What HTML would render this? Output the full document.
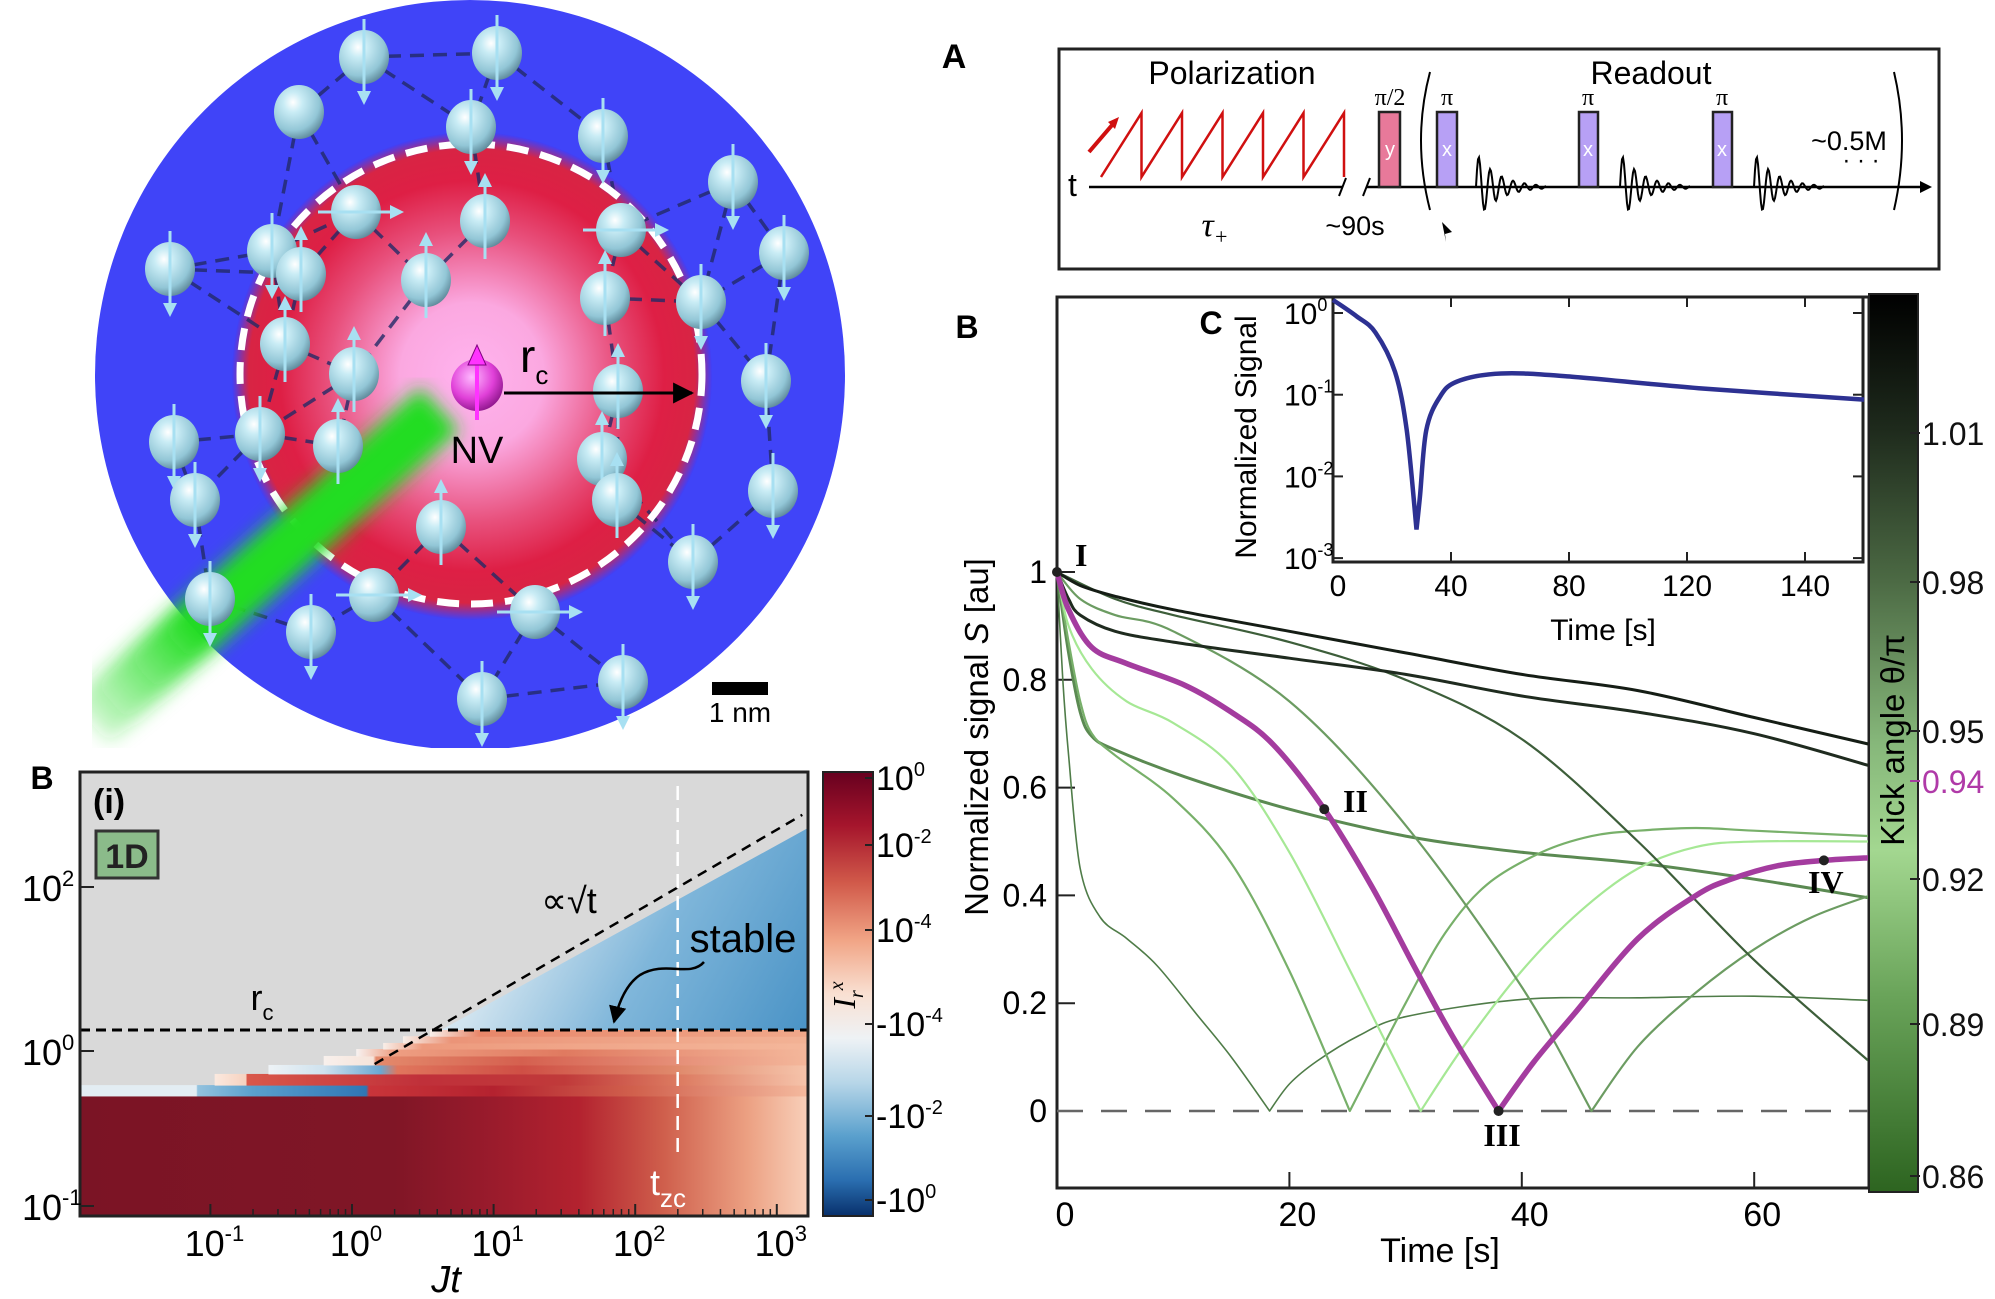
<!DOCTYPE html>
<html><head><meta charset="utf-8"><title>NV spin figure</title>
<style>
html,body{margin:0;padding:0;background:#fff;}
svg{display:block;font-family:"Liberation Sans Narrow","Liberation Sans",sans-serif;}
.serif{font-family:"Liberation Serif",serif;}
</style></head>
<body>
<svg id="fig" width="1995" height="1299" viewBox="0 0 1995 1299" xmlns="http://www.w3.org/2000/svg">
<defs>
  <radialGradient id="sphereG" cx="0.38" cy="0.32" r="0.75">
    <stop offset="0" stop-color="#ffffff"/><stop offset="0.25" stop-color="#c9ecf5"/>
    <stop offset="0.7" stop-color="#92c6d6"/><stop offset="1" stop-color="#557f90"/>
  </radialGradient>
  <radialGradient id="nvG" cx="0.4" cy="0.35" r="0.7">
    <stop offset="0" stop-color="#ffb8ff"/><stop offset="0.6" stop-color="#e040d8"/><stop offset="1" stop-color="#8a1488"/>
  </radialGradient>
  <radialGradient id="redG" cx="0.5" cy="0.5" r="0.5">
    <stop offset="0" stop-color="#ffb3ef"/><stop offset="0.3" stop-color="#fba8e0"/>
    <stop offset="0.6" stop-color="#e8507c"/><stop offset="0.8" stop-color="#de1f45"/>
    <stop offset="0.93" stop-color="#d82444"/><stop offset="1" stop-color="#4040f8"/>
  </radialGradient>
  <filter id="blur"><feGaussianBlur stdDeviation="9"/></filter>
  <linearGradient id="beamG" x1="90" y1="722" x2="440" y2="409" gradientUnits="userSpaceOnUse">
    <stop offset="0" stop-color="#22dd22" stop-opacity="0.2"/><stop offset="0.3" stop-color="#22dd22"/><stop offset="1" stop-color="#22dd22"/>
  </linearGradient>
  <clipPath id="imgClip"><rect x="92" y="0" width="776" height="748"/></clipPath>
  <linearGradient id="cbHeat" x1="0" y1="0" x2="0" y2="1">
    <stop offset="0" stop-color="#67001f"/><stop offset="0.12" stop-color="#a5152c"/>
    <stop offset="0.25" stop-color="#d15a4a"/><stop offset="0.38" stop-color="#f1a586"/>
    <stop offset="0.5" stop-color="#f9e0d2"/><stop offset="0.6" stop-color="#eef2f5"/>
    <stop offset="0.7" stop-color="#b7d6e8"/><stop offset="0.82" stop-color="#5aa0cd"/>
    <stop offset="0.92" stop-color="#2a6eb0"/><stop offset="1" stop-color="#08306b"/>
  </linearGradient>
  <linearGradient id="cbKick" x1="0" y1="0" x2="0" y2="1">
    <stop offset="0" stop-color="#000000"/><stop offset="0.15" stop-color="#1e2a1c"/>
    <stop offset="0.32" stop-color="#4c6a44"/><stop offset="0.5" stop-color="#86b77a"/>
    <stop offset="0.62" stop-color="#a3d790"/><stop offset="0.78" stop-color="#6aa45a"/>
    <stop offset="1" stop-color="#2d6420"/>
  </linearGradient>
  <linearGradient id="stableG" x1="430" y1="820" x2="808" y2="1030" gradientUnits="userSpaceOnUse">
    <stop offset="0" stop-color="#ffffff"/><stop offset="0.3" stop-color="#cfe3ef"/>
    <stop offset="0.6" stop-color="#7fb6da"/><stop offset="1" stop-color="#4a93c6"/>
  </linearGradient>
  <marker id="arrBlack" viewBox="0 0 10 10" refX="9" refY="5" markerWidth="7" markerHeight="7" orient="auto"><path d="M0,0 L10,5 L0,10 z" fill="#000"/></marker>
</defs>

<g id="illus" clip-path="url(#imgClip)">
  <circle cx="470" cy="375" r="375" fill="#4044f8"/>
  <ellipse cx="472" cy="376" rx="240" ry="244" fill="url(#redG)"/>
  <g id="net"></g>
  <ellipse cx="471" cy="374" rx="231" ry="230" fill="none" stroke="#fff" stroke-width="7" stroke-dasharray="22 12"/>
  <line x1="90" y1="722" x2="440" y2="409" stroke="url(#beamG)" stroke-width="58" filter="url(#blur)"/>
  <g id="spheres"></g>
  <circle cx="477" cy="385" r="26" fill="url(#nvG)"/>
  <line x1="477" y1="420" x2="477" y2="360" stroke="#ff33ff" stroke-width="4"/>
  <path d="M468,365 L477,345 L486,365 z" fill="#ff33ff" stroke="#800080" stroke-width="1"/>
  <line x1="504" y1="393" x2="692" y2="393" stroke="#000" stroke-width="3" marker-end="url(#arrBlack)"/>
  <text x="520" y="372" font-size="46">r<tspan font-size="26" dy="12">c</tspan></text>
  <text x="477" y="463" font-size="38" text-anchor="middle">NV</text>
  <rect x="712" y="682" width="56" height="13" fill="#000"/>
  <text x="740" y="722" font-size="28" text-anchor="middle">1 nm</text>
</g>

<g id="panelA">
  <text x="954" y="68" font-size="34" font-weight="bold" text-anchor="middle">A</text>
  <rect x="1059" y="49" width="880" height="220" fill="none" stroke="#222" stroke-width="3"/>
  <text x="1232" y="84" font-size="32" text-anchor="middle">Polarization</text>
  <text x="1651" y="84" font-size="32" text-anchor="middle">Readout</text>
  <text x="1068" y="196" font-size="32">t</text>
  <line x1="1089" y1="187" x2="1343" y2="187" stroke="#000" stroke-width="2.5"/>
  <line x1="1367" y1="187" x2="1922" y2="187" stroke="#000" stroke-width="2.5"/>
  <path d="M1920,181 L1932,187 L1920,193 z" fill="#000"/>
  <line x1="1339" y1="196" x2="1346" y2="178" stroke="#000" stroke-width="2"/>
  <line x1="1363" y1="196" x2="1370" y2="178" stroke="#000" stroke-width="2"/>
  <path id="saw" fill="none" stroke="#d01010" stroke-width="2.5"/>
  <line x1="1089" y1="152" x2="1113" y2="124" stroke="#d01010" stroke-width="4"/>
  <path d="M1108,122 L1119,117 L1115,129 z" fill="#d01010"/>
  <rect x="1379" y="112" width="21" height="75" fill="#e8799a" stroke="#222" stroke-width="2.5"/>
  <text x="1390" y="156" font-size="20" fill="#fff" text-anchor="middle">y</text>
  <rect x="1437" y="112" width="20" height="75" fill="#b7a0f5" stroke="#222" stroke-width="2.5"/>
  <rect x="1579" y="112" width="19" height="75" fill="#b7a0f5" stroke="#222" stroke-width="2.5"/>
  <rect x="1713" y="112" width="19" height="75" fill="#b7a0f5" stroke="#222" stroke-width="2.5"/>
  <text x="1447" y="156" font-size="20" fill="#fff" text-anchor="middle">x</text>
  <text x="1588" y="156" font-size="20" fill="#fff" text-anchor="middle">x</text>
  <text x="1722" y="156" font-size="20" fill="#fff" text-anchor="middle">x</text>
  <text x="1390" y="105" font-size="24" class="serif" text-anchor="middle">π/2</text>
  <text x="1447" y="105" font-size="24" class="serif" text-anchor="middle">π</text>
  <text x="1588" y="105" font-size="24" class="serif" text-anchor="middle">π</text>
  <text x="1722" y="105" font-size="24" class="serif" text-anchor="middle">π</text>
  <g id="fids"></g>
  <path d="M1430,72 Q1412,140 1430,210" fill="none" stroke="#000" stroke-width="2"/>
  <path d="M1894,72 Q1910,140 1894,210" fill="none" stroke="#000" stroke-width="2"/>
  <text x="1849" y="150" font-size="27" text-anchor="middle">~0.5M</text>
  <text x="1861" y="168" font-size="24" text-anchor="middle">· · ·</text>
  <text x="1215" y="236" font-size="34" font-style="italic" class="serif" text-anchor="middle">τ<tspan font-size="22" dy="8">+</tspan></text>
  <text x="1355" y="235" font-size="27" text-anchor="middle">~90s</text>
  <path d="M1442,222 L1452,232 L1445,234 L1446,242 z" fill="#000"/>
</g>

<g id="heat">
  <text x="42" y="789" font-size="32" font-weight="bold" text-anchor="middle">B</text>
  <rect x="80" y="772" width="728" height="444" fill="#d9d9d9"/>
  <g id="hmCells"></g>
  <g id="hmOver"></g>
  <rect x="80" y="772" width="728" height="444" fill="none" stroke="#222" stroke-width="3"/>
  <text x="93" y="813" font-size="34" font-weight="bold">(i)</text>
  <rect x="96" y="831" width="62" height="47" fill="#8bbb8a" stroke="#333" stroke-width="3"/>
  <text x="127" y="868" font-size="34" font-weight="bold" text-anchor="middle" fill="#222">1D</text>
  <text x="569" y="913" font-size="36" text-anchor="middle">∝√t</text>
  <text x="743" y="952" font-size="40" text-anchor="middle">stable</text>
  <path d="M704,962 C690,978 665,960 640,975 C625,985 618,1005 614,1022" fill="none" stroke="#000" stroke-width="2.5" marker-end="url(#arrBlack)"/>
  <text x="262" y="1010" font-size="36" text-anchor="middle">r<tspan font-size="22" dy="10">c</tspan></text>
  <text x="668" y="1195" font-size="36" fill="#fff" text-anchor="middle">t<tspan font-size="26" dy="12">zc</tspan></text>
  <g id="hmAxes"></g>
  <text x="446" y="1292" font-size="38" font-style="italic" text-anchor="middle">Jt</text>
  <rect x="823" y="772" width="50" height="444" fill="url(#cbHeat)" stroke="#222" stroke-width="2"/>
  <text transform="translate(855,995) rotate(-90)" font-size="32" font-style="italic" class="serif" text-anchor="middle">I<tspan font-size="20" dy="8">r</tspan><tspan font-size="20" dy="-20">x</tspan></text>
  <g id="cbHeatTicks"></g>
</g>

<g id="main">
  <text x="967" y="338" font-size="32" font-weight="bold" text-anchor="middle">B</text>
  <rect x="1057" y="297" width="812" height="891" fill="#fff" stroke="#222" stroke-width="3"/>
  <g id="mainAxes"></g>
  <g id="mainSeries"></g>
  <g id="markers"></g>
  <text transform="translate(988,737) rotate(-90)" font-size="33" text-anchor="middle">Normalized signal <tspan font-style="italic">S</tspan> [au]</text>
  <text x="1440" y="1262" font-size="34" text-anchor="middle">Time [s]</text>
  <text x="1075" y="566" font-size="32" font-weight="bold" class="serif">I</text>
  <text x="1343" y="812" font-size="32" font-weight="bold" class="serif">II</text>
  <text x="1502" y="1146" font-size="32" font-weight="bold" class="serif" text-anchor="middle">III</text>
  <text x="1808" y="893" font-size="32" font-weight="bold" class="serif">IV</text>
  <rect x="1333" y="297" width="530" height="265" fill="#fff" stroke="#222" stroke-width="3"/>
  <g id="insetAxes"></g>
  <path id="insetLine" fill="none" stroke="#2d3192" stroke-width="4.5"/>
  <text x="1211" y="334" font-size="32" font-weight="bold" text-anchor="middle">C</text>
  <text transform="translate(1256,437) rotate(-90)" font-size="30" text-anchor="middle">Normalized Signal</text>
  <text x="1603" y="640" font-size="30" text-anchor="middle">Time [s]</text>
  <rect x="1869" y="294" width="49" height="898" fill="url(#cbKick)" stroke="#222" stroke-width="2"/>
  <text transform="translate(1904,740) rotate(-90)" font-size="33" text-anchor="middle">Kick angle θ/π</text>
  <g id="kickTicks"></g>
</g>
</svg>

<script>
// ================= MAIN CHART DATA =================
const s1T = [0,2,5,10,20,30,40,50,60,70];
const s1V = [1,0.975,0.955,0.93,0.89,0.85,0.81,0.78,0.73,0.68];
const s2T = [0,1,2,5,10,20,30,40,50,60,70];
const s2V = [1,0.95,0.92,0.89,0.87,0.84,0.81,0.77,0.74,0.70,0.64];
const s3T = [0,5,10,20,30,40,50,60,70];
const s3V = [1,0.95,0.92,0.87,0.80,0.69,0.50,0.28,0.09];
const s4T = [0,2,5,10,20,30,40,46,50,55,60,65,70];
const s4V = [1,0.95,0.92,0.89,0.76,0.53,0.23,0.0,0.12,0.22,0.30,0.36,0.40];
const s5T = [0,1,3,6,10,15,20,25,28,31.3,35,40,45,50,55,60,70];
const s5V = [1,0.9,0.82,0.76,0.72,0.64,0.48,0.27,0.14,0,0.12,0.26,0.37,0.45,0.49,0.50,0.50];
const s6T = [0,1,3,6,11,15,18.6,23,27,30.7,34,38,41,44.5,50,55,58,62,66,70];
const s6V = [1,0.93,0.86,0.83,0.79,0.74,0.68,0.56,0.42,0.27,0.14,0,0.09,0.18,0.32,0.40,0.43,0.455,0.465,0.47];
const s7T = [0,1,2,3,5,10,15,20,25.2,30,33.4,37,41.7,46,50,55,60,70];
const s7V = [1,0.87,0.76,0.70,0.66,0.58,0.46,0.26,0,0.2,0.33,0.42,0.48,0.51,0.52,0.525,0.52,0.51];
const s8T = [0,1,2,3,5,11,20,30,40,50,60,70];
const s8V = [1,0.85,0.74,0.695,0.67,0.62,0.56,0.51,0.48,0.46,0.43,0.395];
const s9T = [0,0.5,1,2,3.7,6,8.6,12,15,18.3,20,22.4,26,30,40,50,60,70];
const s9V = [1,0.8,0.66,0.45,0.36,0.32,0.27,0.18,0.1,0,0.05,0.093,0.14,0.175,0.207,0.21,0.213,0.205];
const markerT = [0,23,38,66];
const markerV = [1,0.56,0,0.465];
const yTicks = [0,0.2,0.4,0.6,0.8,1];
const yTickLabels = ["0","0.2","0.4","0.6","0.8","1"];
const xTicks = [0,20,40,60];
const xTickLabels = ["0","20","40","60"];
const inT = [0,8,14.4,21,25,28.3,29.5,31.6,36,42,57,81,124,180];
const inLogV = [0.16,-0.04,-0.24,-0.72,-1.44,-2.65,-2.24,-1.44,-1.04,-0.84,-0.74,-0.78,-0.92,-1.06];
const inXTicks = [0,40,80,120,160];
const inXTickLabels = ["0","40","80","120","140"];
const inYTicks = [0,-1,-2,-3];
const kickTicks = [1.01,0.98,0.95,0.94,0.92,0.89,0.86];
const kickTickY = [433,582,731,781,879,1024,1176];
// ================= HEATMAP DATA =================
const hmXTicks = [-1,0,1,2,3];
const hmYTicks = [2,0,-1];
const hmRowLo = [-1.07,-0.29,-0.22,-0.148,-0.09,-0.032,0.024,0.098,0.18];
const hmRowHi = [-0.29,-0.22,-0.148,-0.09,-0.032,0.024,0.098,0.18,0.256];
const hmRowStart = [-1.92,-1.92,-0.97,-0.59,-0.2,0.03,0.22,0.36,0.55];
const hmRowStops = [
 [[-1.92,'#7b1425'],[0.3,'#801626'],[1.0,'#9a1b2c'],[1.6,'#b3222f'],[2.2,'#cf5f4c'],[2.8,'#eca183'],[3.22,'#f8d0ba']],
 [[-1.92,'#e3edf3'],[-1.1,'#e3edf3'],[-1.09,'#93c2de'],[-0.7,'#5aa0cd'],[0.1,'#2f76b5'],[0.12,'#c9353a'],[1.0,'#b4222f'],[2,'#d1614d'],[3.22,'#f4b99e']],
 [[-0.97,'#fbe9df'],[-0.75,'#f6d2c0'],[-0.74,'#d9584a'],[0.5,'#c0303a'],[1.5,'#c03a3a'],[2.3,'#dc7a60'],[3.22,'#f6c4ab']],
 [[-0.59,'#eef3f6'],[-0.2,'#cfe2ee'],[0.2,'#6aa8d2'],[0.32,'#e0765d'],[1.2,'#cf4f45'],[2.3,'#e08a6c'],[3.22,'#f6c4ab']],
 [[-0.2,'#f8f0ec'],[0.15,'#f6e4da'],[0.17,'#e48a6c'],[1.2,'#d5604f'],[3.22,'#f4b79b']],
 [[0.03,'#f7f2f0'],[0.3,'#ee9e82'],[1.5,'#e07a60'],[3.22,'#f4b79b']],
 [[0.22,'#f8eee8'],[0.5,'#ed9a7d'],[3.22,'#f4b79b']],
 [[0.36,'#f7efe9'],[0.7,'#eb9478'],[3.22,'#f2b295']],
 [[0.55,'#f8efea'],[0.9,'#e8876a'],[3.22,'#f0a88a']]
];
const rcLogR = 0.256;
const sqrtLineJ = [0.16,3.18];
const sqrtLineR = [-0.084,2.88];
const tzcLogJ = 2.3;
const cbHeatLabels = ["10","10","10","-10","-10","-10"];
const cbHeatExps = ["0","-2","-4","-4","-2","0"];
const cbHeatY = [790,857,942,1036,1128,1212];

const NS = "http://www.w3.org/2000/svg";
function mk(tag, attrs, parent){ const e=document.createElementNS(NS,tag); for(const k in attrs) e.setAttribute(k,attrs[k]); if(parent) parent.appendChild(e); return e; }
const $ = id => document.getElementById(id);
function supText(parent, x, y, size, base, exp, anchor){
  const t = mk('text',{x:x,y:y,'font-size':size,'text-anchor':anchor||'start'},parent);
  t.appendChild(document.createTextNode(base));
  const s = mk('tspan',{'font-size':Math.round(size*0.6),dy:-Math.round(size*0.42)},t);
  s.textContent = exp;
  return t;
}

const xM = t => 1057 + t*11.62;
const yM = v => 1111 - v*539;
function smoothPath(ts, vs, fx, fy){
  const P = ts.map((t,i)=>[fx(t),fy(vs[i])]);
  const n = P.length;
  // cusp = local minimum in value (local max in pixel y)
  const cusp = vs.map((v,i)=> i>0 && i<n-1 && v < vs[i-1] && v < vs[i+1]);
  let d = 'M'+P[0][0].toFixed(1)+','+P[0][1].toFixed(1);
  for(let i=0;i < n-1;i++){
    const p1=P[i], p2=P[i+1];
    let p0 = cusp[i] ? p1 : P[Math.max(0,i-1)];
    let p3 = cusp[i+1] ? p2 : P[Math.min(n-1,i+2)];
    const c1=[p1[0]+(p2[0]-p0[0])/6, p1[1]+(p2[1]-p0[1])/6];
    const c2=[p2[0]-(p3[0]-p1[0])/6, p2[1]-(p3[1]-p1[1])/6];
    d += ` C${c1[0].toFixed(1)},${c1[1].toFixed(1)} ${c2[0].toFixed(1)},${c2[1].toFixed(1)} ${p2[0].toFixed(1)},${p2[1].toFixed(1)}`;
  }
  return d;
}

const mainAx = $('mainAxes');
yTicks.forEach((v,i)=>{
  let tk = mk('line',{x1:1057,y1:yM(v),x2:1075,y2:yM(v),stroke:'#222','stroke-width':2},mainAx);
  
  
  let lb = mk('text',{x:1047,y:yM(v)+11,'font-size':32,'text-anchor':'end'},mainAx);
  lb.textContent = yTickLabels[i];
  
  
});
xTicks.forEach((t,i)=>{
  let tk = mk('line',{x1:xM(t),y1:1188,x2:xM(t),y2:1172,stroke:'#222','stroke-width':2},mainAx);
  
  
  let lb = mk('text',{x:xM(t)+8,y:1226,'font-size':34,'text-anchor':'middle'},mainAx);
  lb.textContent = xTickLabels[i];
  
  
});
let zl = mk('line',{x1:1057,y1:yM(0),x2:1869,y2:yM(0),stroke:'#666','stroke-width':2.5,'stroke-dasharray':'26 18'},mainAx);



const seriesDefs = [
  [s9T,s9V,'#4f7c48',1.6,'series-kick-0.89'],
  [s8T,s8V,'#5b8a52',3,'series-kick-0.92'],
  [s7T,s7V,'#78b06a',2.2,'series-kick-0.93'],
  [s5T,s5V,'#a6e895',2.2,'series-kick-0.945'],
  [s4T,s4V,'#6c9c62',2.2,'series-kick-0.95'],
  [s3T,s3V,'#3d5e3a',2.2,'series-kick-0.98'],
  [s2T,s2V,'#1f2b1f',3,'series-kick-1.00'],
  [s1T,s1V,'#151d15',3,'series-kick-1.02'],
  [s6T,s6V,'#a43c9f',5.5,'series-kick-0.94']
];
const ms = $('mainSeries');
seriesDefs.forEach(d=>{
  let p = mk('path',{d:smoothPath(d[0],d[1],xM,yM),fill:'none',stroke:d[2],'stroke-width':d[3],'stroke-linejoin':'round'},ms);
  
  
});
markerT.forEach((t,i)=>{
  let c = mk('circle',{cx:xM(t),cy:yM(markerV[i]),r:5,fill:'#222'},$('markers'));
  
  
});

const xI = t => 1333 + t*2.95;
const yI = lv => 313 - lv*81.7;
$('insetLine').setAttribute('d', smoothPath(inT, inLogV, xI, yI));
const inAx = $('insetAxes');
inXTicks.forEach((t,i)=>{
  mk('line',{x1:xI(t),y1:562,x2:xI(t),y2:552,stroke:'#222','stroke-width':2},inAx);
  mk('line',{x1:xI(t),y1:297,x2:xI(t),y2:307,stroke:'#222','stroke-width':2},inAx);
  let lb = mk('text',{x:xI(t)+(i===0?5:0),y:596,'font-size':30,'text-anchor':'middle'},inAx);
  lb.textContent = inXTickLabels[i];
  
  
});
inYTicks.forEach(lv=>{
  mk('line',{x1:1333,y1:yI(lv),x2:1343,y2:yI(lv),stroke:'#222','stroke-width':2},inAx);
  mk('line',{x1:1863,y1:yI(lv),x2:1853,y2:yI(lv),stroke:'#222','stroke-width':2},inAx);
  let lb = supText(inAx, 1284, yI(lv)+11, 30, '10', String(lv));
  
  
});

kickTicks.forEach((k,i)=>{
  const hl = (k===0.94);
  mk('line',{x1:1910,y1:kickTickY[i],x2:1920,y2:kickTickY[i],stroke:hl?'#a43c9f':'#222','stroke-width':2},$('kickTicks'));
  let lb = mk('text',{x:1922,y:kickTickY[i]+12,'font-size':32,fill:hl?'#b03aa8':'#111'},$('kickTicks'));
  lb.textContent = k.toFixed(2);
  
  
});

const xH = lj => 352 + lj*141.6;
const yH = lr => lr >= 0 ? 1051 - lr*82 : 1051 - lr*155;
const hmC = $('hmCells');
const defs = document.querySelector('defs');
hmRowLo.forEach((lo,i)=>{
  const gid = 'hmrow'+i;
  const g = mk('linearGradient',{id:gid,x1:xH(hmRowStart[i]),x2:xH(3.22),y1:0,y2:0,gradientUnits:'userSpaceOnUse'},defs);
  const span = 3.22 - hmRowStart[i];
  hmRowStops[i].forEach(s=>{ mk('stop',{offset:((s[0]-hmRowStart[i])/span).toFixed(4),'stop-color':s[1]},g); });
  const y1 = yH(hmRowHi[i]), y2 = yH(lo);
  let r = mk('rect',{x:xH(hmRowStart[i]),y:y1,width:xH(3.22)-xH(hmRowStart[i]),height:y2-y1+0.5,fill:'url(#'+gid+')'},hmC);
  
  
});
const slope = (sqrtLineR[1]-sqrtLineR[0])/(sqrtLineJ[1]-sqrtLineJ[0]);
const lineR = j => sqrtLineR[0] + (j - sqrtLineJ[0])*slope;
const jAtRc = sqrtLineJ[0] + (rcLogR + 0.12 - sqrtLineR[0])/slope;
let pts = [[xH(jAtRc),yH(rcLogR)],[808,yH(rcLogR)],[808,yH(lineR(3.22)-0.2)],[xH(jAtRc),yH(rcLogR)]];
let stable = mk('polygon',{points:pts.map(p=>p.join(',')).join(' '),fill:'url(#stableG)'},$('hmOver'));


let sl = mk('line',{x1:xH(sqrtLineJ[0]),y1:yH(sqrtLineR[0]),x2:xH(sqrtLineJ[1]),y2:yH(sqrtLineR[1]),stroke:'#000','stroke-width':2.5,'stroke-dasharray':'10 7'},$('hmOver'));


let rl = mk('line',{x1:80,y1:yH(rcLogR),x2:808,y2:yH(rcLogR),stroke:'#000','stroke-width':3,'stroke-dasharray':'10 6'},$('hmOver'));


let tl = mk('line',{x1:xH(tzcLogJ),y1:786,x2:xH(tzcLogJ),y2:1160,stroke:'#fff','stroke-width':2.5,'stroke-dasharray':'14 8'},$('hmOver'));


const hmAx = $('hmAxes');
hmXTicks.forEach(lj=>{
  mk('line',{x1:xH(lj),y1:1216,x2:xH(lj),y2:1204,stroke:'#222','stroke-width':2},hmAx);
  for(let m=2;m <= 9;m++){ const xm=xH(lj+Math.log10(m)); if(xm < 806) mk('line',{x1:xm,y1:1216,x2:xm,y2:1209,stroke:'#222','stroke-width':1.5},hmAx); }
  let lb = supText(hmAx, xH(lj)+4, 1256, 36, '10', String(lj), 'middle');
  
  
});
hmYTicks.forEach(lr=>{
  mk('line',{x1:80,y1:yH(lr),x2:94,y2:yH(lr),stroke:'#222','stroke-width':2},hmAx);
  let lb = supText(hmAx, 22, yH(lr)+14, 36, '10', String(lr));
  
  
});
cbHeatY.forEach((y,i)=>{
  mk('line',{x1:865,y1:y-12,x2:873,y2:y-12,stroke:'#222','stroke-width':2},$('cbHeatTicks'));
  let lb = supText($('cbHeatTicks'), 876, y, 34, cbHeatLabels[i], cbHeatExps[i]);
  
  
});

const spinX = [364,497,299,471,603,733,170,272,301,356,485,621,784,426,605,701,285,354,618,766,174,260,338,602,195,617,773,441,693,210,374,311,535,482,623];
const spinY = [57,53,112,127,136,182,269,251,274,212,221,230,253,280,298,302,344,374,391,381,442,434,446,459,500,500,491,527,562,599,595,632,612,699,682];
const spinDir = ['d','d','n','d','d','d','d','d','u','r','u','r','d','u','u','d','u','u','u','d','d','d','u','u','d','u','d','u','d','d','r','d','r','d','d'];
const net = $('net');
spinX.forEach((x,i)=>{
  const d = spinX.map((x2,j)=>[Math.hypot(x2-x,spinY[j]-spinY[i]),j]).filter(a=>a[1]!==i).sort((a,b)=>a[0]-b[0]);
  [d[0],d[1],d[2]].forEach(a=>{ if(a[1]>i) mk('line',{x1:x,y1:spinY[i],x2:spinX[a[1]],y2:spinY[a[1]],stroke:'#222a66','stroke-opacity':0.8,'stroke-width':3.5,'stroke-dasharray':'14 9'},net); });
});
const sp = $('spheres');
spinX.forEach((x,i)=>{
  const y = spinY[i];
  let s = mk('ellipse',{cx:x,cy:y,rx:25,ry:27,fill:'url(#sphereG)'},sp);
  
  
  const dir = spinDir[i];
  if(dir==='u'||dir==='d'){
    mk('line',{x1:x,y1:y-38,x2:x,y2:y+38,stroke:'#a8e0f2','stroke-width':3},sp);
    const ty = dir==='d'? y+48 : y-48, by = dir==='d'? y+34 : y-34;
    mk('path',{d:`M${x-7},${by} L${x},${ty} L${x+7},${by} z`,fill:'#a8e0f2'},sp);
  } else if(dir==='r'){
    mk('line',{x1:x-38,y1:y,x2:x+38,y2:y,stroke:'#a8e0f2','stroke-width':3},sp);
    mk('path',{d:`M${x+34},${y-7} L${x+48},${y} L${x+34},${y+7} z`,fill:'#a8e0f2'},sp);
  }
});

let sd = 'M1101,177';
for(let k=0;k < 6;k++){ const x0=1101+k*40.5; sd += ` L${(x0+40.5).toFixed(1)},113 L${(x0+40.5).toFixed(1)},177`; }
$('saw').setAttribute('d', sd);
const fidStart = [1476,1620,1754];
fidStart.forEach(x0=>{
  let d = `M${x0},187`;
  for(let s=0;s <= 70;s++){ const amp = 34*Math.exp(-s/22); d += ` L${(x0+s).toFixed(1)},${(187 - amp*Math.sin(s*0.55)).toFixed(1)}`; }
  let p = mk('path',{d:d,fill:'none',stroke:'#000','stroke-width':2},$('fids'));
  
  
});
</script>
</body></html>
